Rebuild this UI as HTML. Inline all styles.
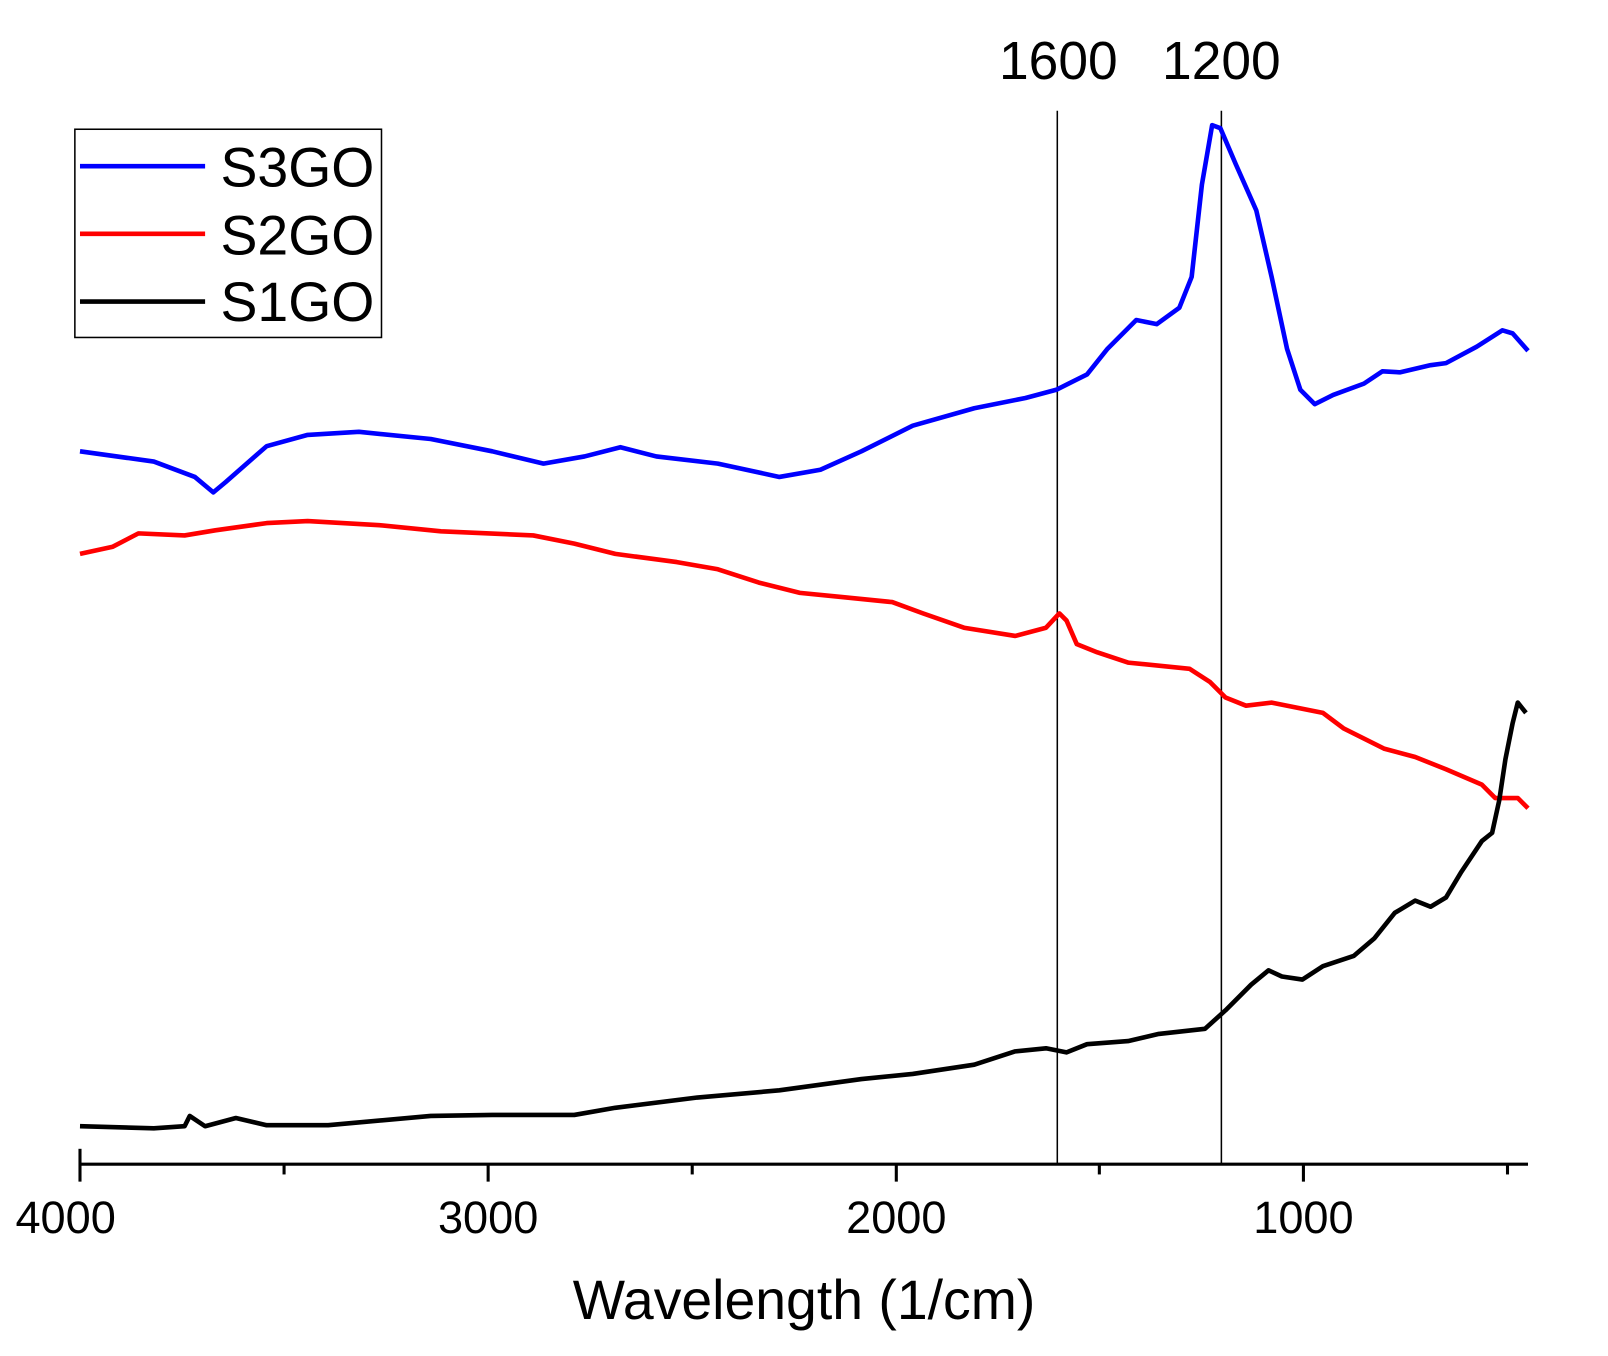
<!DOCTYPE html>
<html><head><meta charset="utf-8"><style>
html,body{margin:0;padding:0;background:#fff;}
svg{display:block;}
text{font-family:"Liberation Sans",Arial,sans-serif;fill:#000;}
</style></head><body>
<svg width="1608" height="1356" viewBox="0 0 1568 1322" preserveAspectRatio="none" xmlns="http://www.w3.org/2000/svg">
<rect width="1568" height="1322" fill="#fff"/>
<line x1="1031" y1="108" x2="1031" y2="1135" stroke="#000" stroke-width="1.5"/>
<line x1="1191" y1="108" x2="1191" y2="1135" stroke="#000" stroke-width="1.5"/>
<text x="1032" y="77" font-size="52" text-anchor="middle">1600</text>
<text x="1191" y="77" font-size="52" text-anchor="middle">1200</text>
<g fill="none" stroke-width="4.5" stroke-linejoin="round">
<polyline stroke="#0000ff" points="78,440 150,450 190,465 208,480 220,470 260,435 300,424 350,421 420,428 480,440 530,452 570,445 605,436 640,445 700,452 760,465 800,458 840,440 890,415 950,398 1000,388 1030,380 1060,365 1080,340 1108,312 1128,316 1150,300 1162,270 1172,180 1182,122 1190,125 1205,160 1225,205 1240,270 1255,340 1268,380 1282,394 1300,385 1330,374 1348,362 1365,363 1395,356 1410,354 1440,338 1465,322 1475,325 1490,342"/>
<polyline stroke="#ff0000" points="78,540 110,533 135,520 180,522 210,517 260,510 300,508 370,512 430,518 520,522 560,530 600,540 660,548 700,555 740,568 780,578 820,582 870,587 900,598 940,612 990,620 1020,612 1033,598 1040,605 1050,628 1070,636 1100,646 1160,652 1180,665 1195,680 1215,688 1240,685 1290,695 1310,710 1350,730 1380,738 1410,750 1445,765 1458,778 1480,778 1490,788"/>
<polyline stroke="#000" points="78,1098 150,1100 180,1098 185,1088 200,1098 230,1090 260,1097 320,1097 420,1088 480,1087 560,1087 600,1080 680,1070 760,1063 840,1052 890,1047 950,1038 990,1025 1020,1022 1040,1026 1060,1018 1100,1015 1130,1008 1175,1003 1195,985 1220,960 1237,946 1250,952 1270,955 1290,942 1320,932 1340,915 1360,890 1380,878 1395,884 1410,875 1425,850 1445,820 1455,812 1462,780 1468,740 1475,705 1480,685 1488,695"/>
</g>
<line x1="78" y1="1135" x2="1490" y2="1135" stroke="#000" stroke-width="3"/>
<g stroke="#000" stroke-width="3">
<line x1="78" y1="1120" x2="78" y2="1152"/>
<line x1="476" y1="1135" x2="476" y2="1152"/>
<line x1="874" y1="1135" x2="874" y2="1152"/>
<line x1="1271" y1="1135" x2="1271" y2="1152"/>
<line x1="277" y1="1135" x2="277" y2="1145"/>
<line x1="675" y1="1135" x2="675" y2="1145"/>
<line x1="1072" y1="1135" x2="1072" y2="1145"/>
<line x1="1470" y1="1135" x2="1470" y2="1145"/>
</g>
<g font-size="44" text-anchor="middle">
<text x="64" y="1202">4000</text>
<text x="476" y="1202">3000</text>
<text x="874" y="1202">2000</text>
<text x="1271" y="1202">1000</text>
</g>
<text x="784" y="1286" font-size="54" text-anchor="middle">Wavelength (1/cm)</text>
<rect x="73" y="126" width="299" height="203" fill="#fff" stroke="#000" stroke-width="1.5"/>
<line x1="78" y1="162" x2="200" y2="162" stroke="#0000ff" stroke-width="4.5"/>
<line x1="78" y1="228" x2="200" y2="228" stroke="#ff0000" stroke-width="4.5"/>
<line x1="78" y1="294" x2="200" y2="294" stroke="#000" stroke-width="4.5"/>
<g font-size="54">
<text x="215" y="182">S3GO</text>
<text x="215" y="248">S2GO</text>
<text x="215" y="313">S1GO</text>
</g>
</svg>
</body></html>
